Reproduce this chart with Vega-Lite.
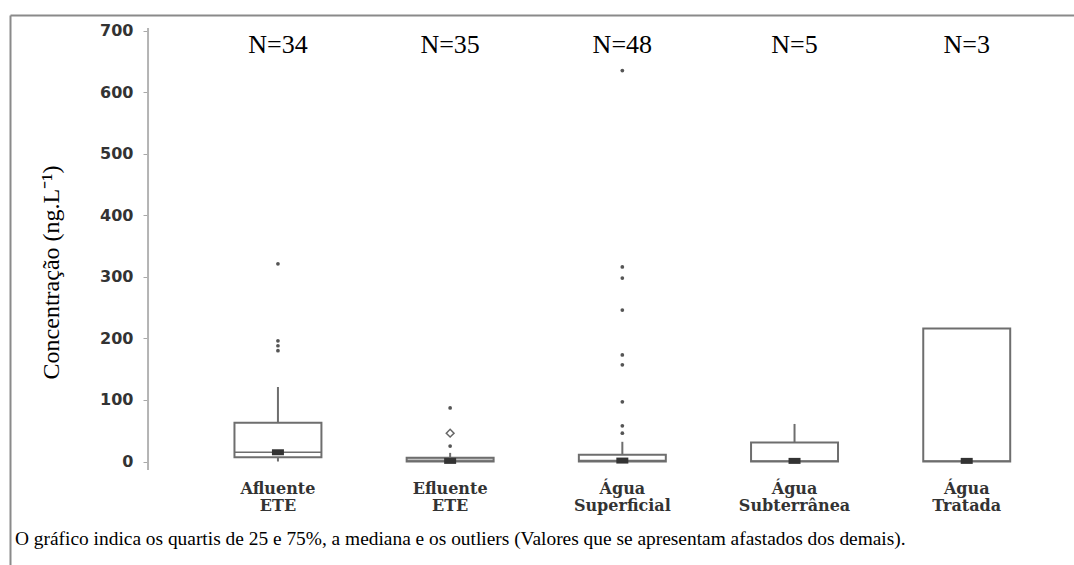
{
  "$schema": "https://vega.github.io/schema/vega-lite/v6.json",
  "width": 1064,
  "height": 550,
  "autosize": "none",
  "padding": {"left": 10, "top": 15, "right": 0, "bottom": 0},
  "background": "white",
  "config": {"view": {"stroke": null}, "axis": {"grid": false}},
  "title": {
    "text": "O gráfico indica os quartis de 25 e 75%, a mediana e os outliers (Valores que se apresentam afastados dos demais).",
    "orient": "bottom",
    "anchor": "start",
    "frame": "group",
    "offset": -20,
    "dx": 5,
    "font": "Liberation Serif, 'Times New Roman', serif",
    "fontSize": 19.4,
    "fontWeight": "normal",
    "color": "#000000",
    "baseline": "alphabetic"
  },
  "datasets": {
    "boxes": [
      {"cat": "Afluente ETE", "n": "N=34", "wlo": 0, "q1": 7, "median": 15, "q3": 63, "whi": 121},
      {"cat": "Efluente ETE", "n": "N=35", "wlo": 0, "q1": 0, "median": 1, "q3": 6, "whi": 14},
      {"cat": "Água Superficial", "n": "N=48", "wlo": 0, "q1": 0, "median": 1.5, "q3": 11, "whi": 32},
      {"cat": "Água Subterrânea", "n": "N=5", "wlo": 0, "q1": 0, "median": 1, "q3": 31, "whi": 61},
      {"cat": "Água Tratada", "n": "N=3", "wlo": 0, "q1": 0, "median": 1, "q3": 216, "whi": 216}
    ],
    "outliers": [
      {"cat": "Afluente ETE", "value": 321, "type": "outlier"},
      {"cat": "Afluente ETE", "value": 196, "type": "outlier"},
      {"cat": "Afluente ETE", "value": 188, "type": "outlier"},
      {"cat": "Afluente ETE", "value": 180, "type": "outlier"},
      {"cat": "Efluente ETE", "value": 87, "type": "outlier"},
      {"cat": "Efluente ETE", "value": 46, "type": "extreme"},
      {"cat": "Efluente ETE", "value": 25, "type": "outlier"},
      {"cat": "Água Superficial", "value": 635, "type": "outlier"},
      {"cat": "Água Superficial", "value": 316, "type": "outlier"},
      {"cat": "Água Superficial", "value": 298, "type": "outlier"},
      {"cat": "Água Superficial", "value": 246, "type": "outlier"},
      {"cat": "Água Superficial", "value": 173, "type": "outlier"},
      {"cat": "Água Superficial", "value": 157, "type": "outlier"},
      {"cat": "Água Superficial", "value": 97, "type": "outlier"},
      {"cat": "Água Superficial", "value": 58, "type": "outlier"},
      {"cat": "Água Superficial", "value": 46, "type": "outlier"}
    ]
  },
  "layer": [
    {
      "data": {"name": "boxes"},
      "mark": {"type": "bar", "stroke": "#6e6e6e", "strokeWidth": 2},
      "encoding": {
        "x": {"field": "cat", "type": "nominal", "sort": null,
          "scale": {"domain": ["Afluente ETE", "Efluente ETE", "Água Superficial", "Água Subterrânea", "Água Tratada"], "paddingInner": 0.495, "paddingOuter": 0.837, "align": 0.7787},
          "axis": {"orient": "bottom", "offset": -85, "domain": false, "ticks": false, "tickSize": 0, "labelPadding": 0, "labelAngle": 0,
            "labelExpr": "split(datum.label, ' ')", "labelFont": "DejaVu Serif, serif", "labelFontWeight": "bold", "labelFontSize": 16,
            "labelColor": "#333333", "labelLineHeight": 17, "labelBaseline": "top", "title": null}},
        "y": {"field": "q1", "type": "quantitative",
          "scale": {"domain": [-168.1, 725.2], "nice": false, "zero": false},
          "axis": {"orient": "left", "offset": -138, "values": [0, 100, 200, 300, 400, 500, 600, 700], "domain": false,
            "ticks": true, "tickSize": 5, "tickColor": "#a8a8a8", "tickWidth": 1,
            "labelFont": "DejaVu Sans", "labelFontWeight": "bold", "labelFontSize": 16, "labelColor": "#333333", "labelPadding": 10,
            "title": "Concentração (ng.L⁻¹)", "titleFont": "Liberation Serif, 'Times New Roman', serif", "titleFontSize": 24, "titleFontWeight": "normal",
            "titleColor": "#000000", "titleX": -85, "titleY": 257}},
        "y2": {"field": "q3"},
        "color": {"field": "cat", "type": "nominal", "legend": null,
          "scale": {"domain": ["Afluente ETE", "Efluente ETE", "Água Superficial", "Água Subterrânea", "Água Tratada"], "range": ["#ffffff", "#c2c2c2", "#ffffff", "#ffffff", "#ffffff"]}}
      }
    },
    {
      "data": {"name": "boxes"},
      "mark": {"type": "rule", "color": "#6e6e6e", "strokeWidth": 2},
      "encoding": {
        "x": {"field": "cat", "type": "nominal", "sort": null, "axis": null},
        "y": {"field": "q3", "type": "quantitative", "axis": null},
        "y2": {"field": "whi"}
      }
    },
    {
      "data": {"name": "boxes"},
      "mark": {"type": "rule", "color": "#6e6e6e", "strokeWidth": 2},
      "encoding": {
        "x": {"field": "cat", "type": "nominal", "sort": null, "axis": null},
        "y": {"field": "wlo", "type": "quantitative", "axis": null},
        "y2": {"field": "q1"}
      }
    },
    {
      "data": {"name": "boxes"},
      "mark": {"type": "tick", "color": "#6e6e6e", "size": 87, "thickness": 1.5, "opacity": 1},
      "encoding": {
        "x": {"field": "cat", "type": "nominal", "sort": null, "axis": null},
        "y": {"field": "median", "type": "quantitative", "axis": null}
      }
    },
    {
      "data": {"name": "boxes"},
      "mark": {"type": "tick", "color": "#333333", "size": 12, "thickness": 6, "opacity": 1},
      "encoding": {
        "x": {"field": "cat", "type": "nominal", "sort": null, "axis": null},
        "y": {"field": "median", "type": "quantitative", "axis": null}
      }
    },
    {
      "data": {"name": "outliers"},
      "transform": [{"filter": "datum.type === 'outlier'"}],
      "mark": {"type": "point", "shape": "circle", "filled": true, "size": 14, "color": "#555555", "opacity": 1},
      "encoding": {
        "x": {"field": "cat", "type": "nominal", "sort": null, "axis": null},
        "y": {"field": "value", "type": "quantitative", "axis": null}
      }
    },
    {
      "data": {"name": "outliers"},
      "transform": [{"filter": "datum.type === 'extreme'"}],
      "mark": {"type": "point", "shape": "diamond", "filled": false, "size": 60, "color": "#666666", "strokeWidth": 1.5, "opacity": 1},
      "encoding": {
        "x": {"field": "cat", "type": "nominal", "sort": null, "axis": null},
        "y": {"field": "value", "type": "quantitative", "axis": null}
      }
    },
    {
      "data": {"name": "boxes"},
      "mark": {"type": "text", "font": "Liberation Serif, 'Times New Roman', serif", "fontSize": 26, "color": "#000000", "baseline": "alphabetic", "align": "center"},
      "encoding": {
        "x": {"field": "cat", "type": "nominal", "sort": null,
          "axis": {"orient": "top", "offset": 0, "domain": true, "domainColor": "#8a8a8a", "domainWidth": 2, "ticks": false, "labels": false, "title": null}},
        "y": {"datum": 664, "type": "quantitative",
          "axis": {"orient": "left", "offset": 0, "domain": true, "domainColor": "#8a8a8a", "domainWidth": 2, "ticks": false, "labels": false, "title": null}},
        "text": {"field": "n"}
      }
    },
    {
      "data": {"values": [{}]},
      "mark": {"type": "rule", "color": "#b4b4b4", "strokeWidth": 2},
      "encoding": {
        "x": {"datum": "Afluente ETE", "type": "nominal", "axis": null, "bandPosition": -0.994},
        "y": {"datum": -14, "type": "quantitative", "axis": null},
        "y2": {"datum": 704}
      }
    }
  ],
  "resolve": {"axis": {"x": "independent", "y": "independent"}}
}
